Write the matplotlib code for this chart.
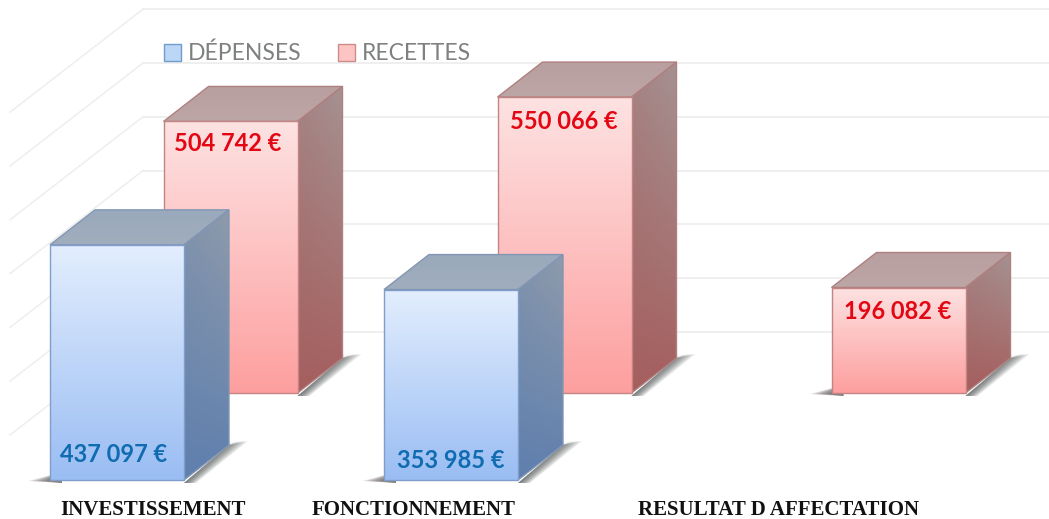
import numpy as np
import matplotlib
matplotlib.use('Agg')
import matplotlib.pyplot as plt
from matplotlib.colors import to_rgb
from matplotlib.patches import Polygon, Patch

# données
groups = ['INVESTISSEMENT', 'FONCTIONNEMENT', 'RESULTAT D AFFECTATION']
depenses = [437097, 353985]
recettes = [504742, 550066, 196082]
dep_labels = ['437 097 €', '353 985 €']
rec_labels = ['504 742 €', '550 066 €', '196 082 €']
grid_values = [0, 100000, 200000, 300000, 400000, 500000, 600000]
legend_names = ['DÉPENSES', 'RECETTES']

# échelle : pixels de l'image
PX_Y = 0.000538   # px par euro
PX_X = 334.0      # px par groupe
W = 134 / PX_X
DX = 45 / PX_X
DY = 35 / PX_Y

fig = plt.figure(figsize=(10.49, 5.19), dpi=100)
ax = fig.add_axes([0, 0, 1, 1])
ax.set_xlim(-50 / PX_X, 999 / PX_X)
ax.set_ylim(-39 / PX_Y, 480 / PX_Y)
ax.axis('off')
ax.set_autoscale_on(False)


def grad_face(pts, top, bottom, edge, z, left=None):
    # face avec dégradé vertical, découpée par le polygone
    pts = np.array(pts)
    t = np.linspace(0, 1, 128)[:, None, None]
    h = np.linspace(0, 1, 32)[None, :, None]
    c_top, c_bot = np.array(to_rgb(top)), np.array(to_rgb(bottom))
    img = c_top * (1 - t) + c_bot * t
    img = np.repeat(img, 32, axis=1)
    if left is not None:
        img = img * (1 - 0.25 * (1 - h)) + np.array(to_rgb(left)) * 0.25 * (1 - h)
    poly = Polygon(pts, closed=True, fc='none', ec=edge, lw=1.0, zorder=z + 0.1)
    ax.add_patch(poly)
    extent = [pts[:, 0].min(), pts[:, 0].max(), pts[:, 1].min(), pts[:, 1].max()]
    im = ax.imshow(img, extent=extent, origin='upper', aspect='auto', zorder=z, interpolation='bilinear')
    im.set_clip_path(poly)


def shadow(x, y0, z):
    # ombre au sol, à droite et un peu à gauche (couches pour adoucir)
    for s in np.linspace(1.0, 0.1, 10):
        ax.fill([x + W, x + W + DX, x + W + DX + s * 19 / PX_X, x + W + s * 12 / PX_X],
                [y0 - 3 / PX_Y, y0 + DY, y0 + DY + 4 / PX_Y, y0 - 3 / PX_Y],
                color='#3a3f3f', alpha=0.1, lw=0, zorder=z)
        ax.fill([x - s * 22 / PX_X, x + 12 / PX_X, x + 12 / PX_X],
                [y0 - 1 / PX_Y, y0 + 8 / PX_Y, y0 - 3 / PX_Y],
                color='#4a4040', alpha=0.1, lw=0, zorder=z)


def bar3d(x, y0, v, col, z):
    shadow(x, y0, z)
    top = y0 + v
    grad_face([(x, top), (x + W, top), (x + W + DX, top + DY), (x + DX, top + DY)],
              col['top1'], col['top2'], col['edge2'], z + 0.2)
    grad_face([(x + W, y0), (x + W + DX, y0 + DY), (x + W + DX, top + DY), (x + W, top)],
              col['side1'], col['side2'], col['edge2'], z + 0.2, left=col['side2'])
    grad_face([(x, y0), (x + W, y0), (x + W, top), (x, top)],
              col['front1'], col['front2'], col['edge'], z + 0.4)


blue = dict(front1='#e3eefe', front2='#9abdf3', edge='#7f9fca', edge2='#8296b4',
            top1='#9aa9bb', top2='#a0adbd', side1='#8f9bab', side2='#5f7fae')
red = dict(front1='#fde2e2', front2='#fe9f9f', edge='#c48484', edge2='#b08080',
           top1='#b99f9f', top2='#bda6a6', side1='#a59292', side2='#a55e5e')

# grille : mur du fond + mur de gauche
wall_x = 143 / PX_X - 50 / PX_X
wall_y = 148 / PX_Y
for g in grid_values:
    y = wall_y + g
    ax.plot([wall_x, 1049 / PX_X], [y, y], color='#eeeeee', lw=1.3, zorder=1)
    ax.plot([wall_x, -40 / PX_X], [y, y - 103 / PX_Y], color='#eeeeee', lw=1.1, zorder=1)

# RECETTES derrière, DÉPENSES devant
red_dx = 113.5 / PX_X
red_dy = 87 / PX_Y
rec_offset = [22, 24, 24]
rec_shift = [-3, -1, -1]
dep_offset = [25, 19]
dep_shift = [-3, 0]
for i, v in enumerate(recettes):
    bar3d(i + red_dx, red_dy, v, red, 2)
    ax.text(i + red_dx + W / 2 + rec_shift[i] / PX_X, red_dy + v - rec_offset[i] / PX_Y, rec_labels[i],
            color='#e30613', fontsize=17, fontweight='bold', family='Lato',
            ha='center', va='center', zorder=6)
for i, v in enumerate(depenses):
    bar3d(i, 0, v, blue, 7)
    ax.text(i + W / 2 + dep_shift[i] / PX_X, dep_offset[i] / PX_Y, dep_labels[i],
            color='#0f6cb0', fontsize=17, fontweight='bold', family='Lato',
            ha='center', va='center', zorder=9)

# étiquettes des groupes
label_x = [103 / PX_X, 364 / PX_X, 728 / PX_X]
for lx, name in zip(label_x, groups):
    ax.text(lx, -30 / PX_Y, name, color='#111111', fontsize=15, fontweight='bold',
            family='Liberation Serif', ha='center', va='center', zorder=10)

handles = [Patch(fc='#bcd6f6', ec='#6f9dcc', lw=1), Patch(fc='#fdc4c4', ec='#cf8a8a', lw=1)]
leg = ax.legend(handles, legend_names, ncol=2, frameon=False, loc='upper left',
                bbox_to_anchor=(164 / 1049, 1 - 43 / 519), handlelength=0.75, handleheight=0.75,
                handletextpad=0.3, columnspacing=1.58, borderpad=0, borderaxespad=0,
                prop={'family': 'Lato', 'size': 16.5}, labelcolor='#7f8080')
leg.set_zorder(11)

fig.savefig('out.png', dpi=100)
